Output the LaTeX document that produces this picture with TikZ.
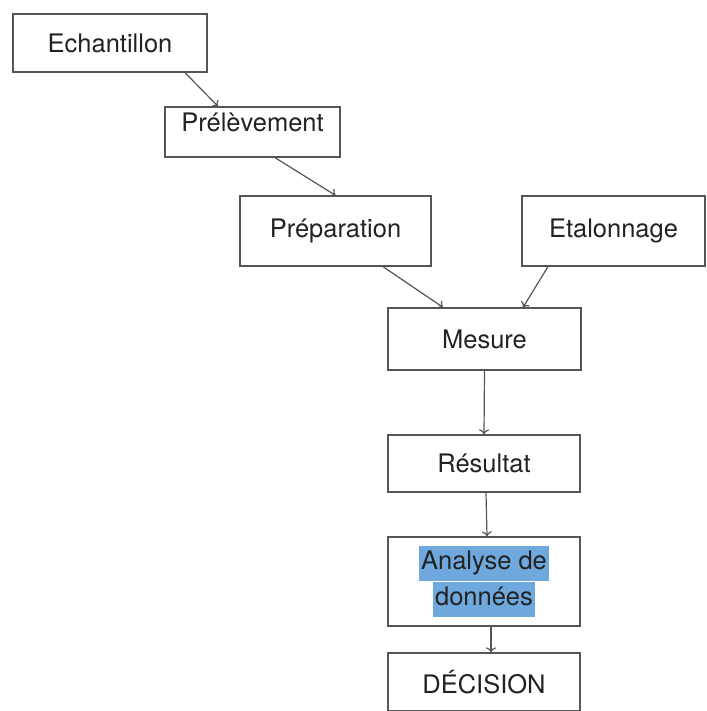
\documentclass[tikz,border=0pt]{standalone}
\usepackage{fontspec}
\setmainfont{TeX Gyre Heros}
\usetikzlibrary{arrows.meta}
\definecolor{trait}{HTML}{555555}
\definecolor{surligne}{HTML}{6FA8DC}
\definecolor{encre}{HTML}{222222}
\begin{document}
\begin{tikzpicture}[x=1pt,y=-1pt,
box/.style={draw=trait, line width=1.3pt, rectangle, inner sep=0pt,
  text=encre, font=\fontsize{25.5}{27}\selectfont, align=center},
fleche/.style={-{To[length=5pt,width=10pt]}, draw=trait, line width=1.2pt},]
\useasboundingbox (0,0) rectangle (706,711);
\clip (0,0) rectangle (706,711);
\node[box, minimum width=194pt, minimum height=58pt] (ech) at (110,43) {Echantillon};
\node[box, minimum width=175pt, minimum height=50pt, text depth=19pt] (prel) at (252.5,132) {Prélèvement};
\node[box, minimum width=191pt, minimum height=70pt] (prep) at (335.5,231) {Préparation};
\node[box, minimum width=183pt, minimum height=70pt] (etal) at (613.5,231) {Etalonnage};
\node[box, minimum width=193pt, minimum height=62pt] (mes) at (484.5,339) {Mesure};
\node[box, minimum width=192pt, minimum height=57pt] (res) at (484,463.5) {Résultat};
\node[box, minimum width=192pt, minimum height=89pt, font=\fontsize{25.5}{38}\selectfont]
  (ana) at (484,581.5) {\setlength{\fboxsep}{2pt}\colorbox{surligne}{\rule[-10pt]{0pt}{31pt}Analyse de}\\[-2pt]
  \setlength{\fboxsep}{2pt}\colorbox{surligne}{\rule[-10pt]{0pt}{31pt}données}};
\node[box, minimum width=192pt, minimum height=58pt] (dec) at (484,682) {DÉCISION};

\draw[fleche] ([xshift=75pt]ech.south) -- ([xshift=-34.5pt]prel.north);
\draw[fleche] ([xshift=22.5pt]prel.south) -- (prep.north);
\draw[fleche] ([xshift=47.5pt]prep.south) -- ([xshift=-41.5pt]mes.north);
\draw[fleche] ([xshift=-65.5pt]etal.south) -- ([xshift=38.5pt]mes.north);
\draw[fleche] (mes.south) -- (res.north);
\draw[fleche] ([xshift=2pt]res.south) -- ([xshift=3pt]ana.north);
\draw[fleche] ([xshift=7pt]ana.south) -- ([xshift=7pt]dec.north);
\end{tikzpicture}
\end{document}
